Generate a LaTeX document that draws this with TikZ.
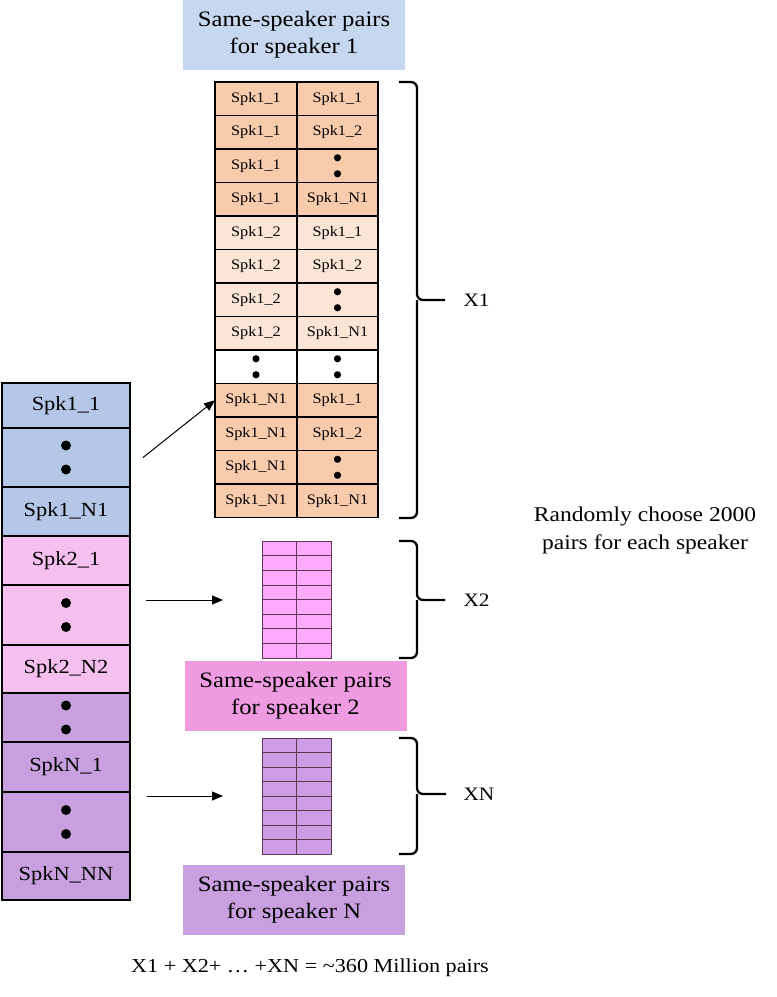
\documentclass[tikz,border=0pt]{standalone}
\usepackage{fontspec}
\setmainfont[FakeStretch=1.12]{Liberation Serif}
\usetikzlibrary{arrows.meta,calc}
\definecolor{topblue}{HTML}{C6D8EF}
\definecolor{lb}{HTML}{B4C7E7}
\definecolor{lp}{HTML}{F5C0EE}
\definecolor{lv}{HTML}{C8A0E0}
\definecolor{pkD}{HTML}{F8CBAD}
\definecolor{pkL}{HTML}{FBE5D6}
\definecolor{wh}{HTML}{FFFFFF}
\definecolor{box2}{HTML}{EF9BE2}
\definecolor{sm2}{HTML}{FDA9FD}
\definecolor{smN}{HTML}{CF9CE7}
\definecolor{gridc}{HTML}{5E3A52}
\begin{document}
\begin{tikzpicture}[x=1pt,y=-1pt,
  cell/.style={draw=black,line width=1.2pt,minimum width=82pt,minimum height=33.5pt,inner sep=0pt,outer sep=0pt,anchor=north west,font=\fontsize{14.5}{16}\selectfont},
  lcell/.style={draw=black,line width=2pt,minimum width=128pt,inner sep=0pt,outer sep=0pt,anchor=north west,font=\fontsize{20}{22}\selectfont},
  lab/.style={minimum width=222pt,minimum height=70pt,inner sep=0pt,align=center,font=\fontsize{22}{27}\selectfont},
  smalltab/.style={draw=gridc,line width=0.6pt,minimum width=69pt,inner sep=0pt,outer sep=0pt},
  bracestyle/.style={line width=2.3pt,rounded corners=6pt},
  arr/.style={line width=1pt,-{Triangle[length=11pt,width=9pt]}},
  txt/.style={font=\fontsize{19}{22}\selectfont}]
\useasboundingbox (0,0) rectangle (777,997);

% label boxes
\node[lab,fill=topblue] (lab1) at (294,35) {Same-speaker pairs\\for speaker 1};
\node[lab,fill=box2] (lab2) at (295.5,696) {Same-speaker pairs\\for speaker 2};
\node[lab,fill=lv] (labN) at (294,900) {Same-speaker pairs\\for speaker N};

% big table
\foreach \i/\a/\b/\c in {1/Spk1\_1/Spk1\_1/pkD,2/Spk1\_1/Spk1\_2/pkD,3/Spk1\_1//pkD,4/Spk1\_1/Spk1\_N1/pkD,
  5/Spk1\_2/Spk1\_1/pkL,6/Spk1\_2/Spk1\_2/pkL,7/Spk1\_2//pkL,8/Spk1\_2/Spk1\_N1/pkL,
  9///wh,
  10/Spk1\_N1/Spk1\_1/pkD,11/Spk1\_N1/Spk1\_2/pkD,12/Spk1\_N1//pkD,13/Spk1\_N1/Spk1\_N1/pkD}{
  \pgfmathsetmacro\yy{82+(\i-1)*33.5}
  \node[cell,fill=\c] (t\i a) at (215,\yy) {\a};
  \node[cell,fill=\c,minimum width=81pt] (t\i b) at (297,\yy) {\b};
}
\foreach \n in {t3b,t7b,t9a,t9b,t12b}{
  \fill ($(\n.center)+(0,-8)$) circle (3.6);
  \fill ($(\n.center)+(0,8)$) circle (3.6);
}

% left column
\foreach \k/\ya/\yb/\t/\c in {1/383/428/Spk1\_1/lb,2/428/487//lb,3/487/536/Spk1\_N1/lb,
  4/536/585/Spk2\_1/lp,5/585/645//lp,6/645/693/Spk2\_N2/lp,
  7/693/742//lv,8/742/792/SpkN\_1/lv,9/792/852//lv,10/852/900/SpkN\_NN/lv}{
  \pgfmathsetmacro\hh{\yb-\ya}
  \node[lcell,fill=\c,minimum height=\hh pt] (l\k) at (2,\ya) {\t};
}
\foreach \n in {l2,l5,l7,l9}{
  \fill ($(\n.center)+(0,-12)$) circle (5);
  \fill ($(\n.center)+(0,12)$) circle (5);
}

% small tables
\node[smalltab,fill=sm2,minimum height=117pt] (s2) at (296.5,599.5) {};
\node[smalltab,fill=smN,minimum height=116pt] (sN) at (296.5,796) {};
\draw[gridc,line width=0.6pt] (s2.north) -- (s2.south);
\draw[gridc,line width=0.6pt] (sN.north) -- (sN.south);
\foreach \j in {1,...,7}{
  \draw[gridc,line width=0.6pt] ($(s2.north west)!\j/8!(s2.south west)$) -- ($(s2.north east)!\j/8!(s2.south east)$);
  \draw[gridc,line width=0.6pt] ($(sN.north west)!\j/8!(sN.south west)$) -- ($(sN.north east)!\j/8!(sN.south east)$);
}

% arrows
\coordinate (a2s) at (146,600);
\coordinate (a2e) at (223,600);
\coordinate (aNs) at (147,796);
\coordinate (aNe) at (223,796);
\draw[arr] ($(l2.east)+(13,0)$) -- (t10a.west);
\draw[arr] (a2s) -- (a2e);
\draw[arr] (aNs) -- (aNe);

% braces
\draw[bracestyle] (399,82) -- (417,82) -- (417,300) -- (445,300);
\draw[bracestyle] (399,518) -- (417,518) -- (417,300);
\draw[bracestyle] (399,541) -- (417,541) -- (417,600) -- (445,600);
\draw[bracestyle] (399,658) -- (417,658) -- (417,600);
\draw[bracestyle] (399,738) -- (417,738) -- (417,794) -- (446,794);
\draw[bracestyle] (399,854) -- (417,854) -- (417,794);

% labels
\node[txt,anchor=west] (x1) at (460,300) {X1};
\node[txt,anchor=west] (x2) at (460,600) {X2};
\node[txt,anchor=west] (xn) at (460,794) {XN};
\node[txt,align=center,font=\fontsize{21}{28}\selectfont] (rnd) at (645,530) {Randomly choose 2000\\pairs for each speaker};
\node[txt,font=\fontsize{19.8}{22}\selectfont] (sum) at (310,968) {X1 + X2+ \ldots{} +XN = \textasciitilde360 Million pairs};
\end{tikzpicture}
\end{document}
